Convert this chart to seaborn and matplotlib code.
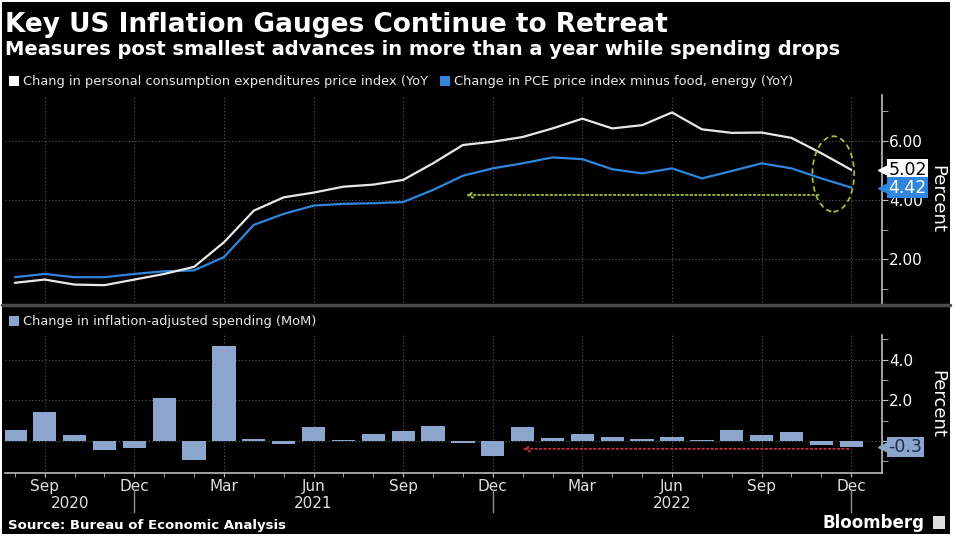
import numpy as np
import pandas as pd
import matplotlib
matplotlib.use('Agg')
import matplotlib.pyplot as plt
import seaborn as sns
from matplotlib.patches import Rectangle, Ellipse, Patch
from matplotlib.lines import Line2D

# monthly data, Aug 2020 - Dec 2022
months = pd.date_range('2020-08-01', '2022-12-01', freq='MS')
pce_yoy = [1.20, 1.31, 1.14, 1.12, 1.31,
           1.50, 1.74, 2.57, 3.64, 4.09, 4.25, 4.45, 4.52, 4.68, 5.24, 5.86, 5.97,
           6.13, 6.42, 6.75, 6.42, 6.53, 6.96, 6.39, 6.27, 6.28, 6.10, 5.58, 5.02]
core_yoy = [1.39, 1.50, 1.39, 1.39, 1.50,
            1.59, 1.62, 2.07, 3.16, 3.53, 3.81, 3.87, 3.89, 3.93, 4.34, 4.82, 5.07,
            5.24, 5.44, 5.38, 5.04, 4.90, 5.07, 4.73, 4.98, 5.24, 5.07, 4.73, 4.42]
spending_mom = [0.54, 1.44, 0.28, -0.46, -0.33,
                2.10, -0.93, 4.67, 0.10, -0.15, 0.67, 0.03, 0.36, 0.48, 0.72, -0.11, -0.72,
                0.70, 0.13, 0.33, 0.18, 0.10, 0.21, 0.03, 0.52, 0.30, 0.43, -0.20, -0.30]

title = 'Key US Inflation Gauges Continue to Retreat'
subtitle = 'Measures post smallest advances in more than a year while spending drops'
pce_label = 'Chang in personal consumption expenditures price index (YoY'
core_label = 'Change in PCE price index minus food, energy (YoY)'
spend_label = 'Change in inflation-adjusted spending (MoM)'

WHITE = '#e8e8e8'
BLUE = '#2f86dc'
BAR = '#8ca5cd'
GRID = '#5a5a5a'
GREEN = '#9cc03c'
RED = '#c0303a'

idx = np.arange(len(months))
df = pd.DataFrame({'i': idx, 'pce': pce_yoy, 'core': core_yoy, 'spend': spending_mom})
quarter_ticks = [i for i, m in enumerate(months) if m.month in (3, 6, 9, 12)]
XLIM = (-0.33, 29.03)

sns.set_style('dark')
plt.rcParams['font.family'] = ['DejaVu Sans']

fig = plt.figure(figsize=(9.6, 5.44), dpi=100, facecolor='white')
fig.patches.append(Rectangle((2 / 960, 1 - 534 / 544), 948 / 960, 532 / 544,
                             transform=fig.transFigure, fc='black', ec='none', zorder=-10))

ax1 = fig.add_axes([5 / 960, 1 - 305 / 544, 877 / 960, 210 / 544])
ax2 = fig.add_axes([5 / 960, 1 - 473 / 544, 877 / 960, 138 / 544])

# top panel: price gauges
sns.lineplot(data=df, x='i', y='pce', ax=ax1, color=WHITE, lw=1.6, zorder=4)
sns.lineplot(data=df, x='i', y='core', ax=ax1, color=BLUE, lw=1.6, zorder=3)

# bottom panel: real spending
sns.barplot(data=df, x='i', y='spend', ax=ax2, color=BAR, width=0.78, saturation=1,
            linewidth=0, edgecolor='none', zorder=3)

for ax in (ax1, ax2):
    ax.set_facecolor('black')
    ax.set_xlim(*XLIM)
    ax.set_xlabel('')
    ax.set_ylabel('')
    for s in ('left', 'top', 'bottom'):
        ax.spines[s].set_visible(False)
    ax.spines['right'].set_visible(True)
    ax.spines['right'].set_color('#bdbdbd')
    ax.spines['right'].set_linewidth(1.2)
    ax.yaxis.tick_right()
    ax.tick_params(axis='y', which='both', direction='out', colors='#bdbdbd',
                   labelcolor='white', labelsize=11, pad=1, length=4)
    ax.grid(False)
    for q in quarter_ticks:
        ax.axvline(q, color=GRID, ls=(0, (1, 2)), lw=0.8, zorder=1)

ax1.set_ylim(0.45, 7.55)
ax1.set_yticks([2, 4, 6])
ax1.set_yticks([1, 3, 5, 7], minor=True)
ax1.set_yticklabels([f'{v:.2f}' for v in [2, 4, 6]])
ax1.set_xticks([])
for v in [2, 4, 6]:
    ax1.axhline(v, color=GRID, ls=(0, (1, 2)), lw=0.8, zorder=1)

ax2.set_ylim(-1.58, 5.22)
ax2.set_yticks([0, 2, 4])
ax2.set_yticks([-1, 1, 3, 5], minor=True)
# the 0.0 label sits under the last-value tag in the original
ax2.set_yticklabels(['', '2.0', '4.0'])
for v in [0, 2, 4]:
    ax2.axhline(v, color=GRID, ls=(0, (1, 2)), lw=0.8, zorder=1)
ax2.spines['bottom'].set_visible(True)
ax2.spines['bottom'].set_color('#bdbdbd')
ax2.spines['bottom'].set_linewidth(1.2)
ax2.set_xticks(quarter_ticks)
ax2.set_xticklabels([months[q].strftime('%b') for q in quarter_ticks])
ax2.set_xticks(idx, minor=True)
ax2.tick_params(axis='x', which='both', direction='out', length=3, colors='#bdbdbd',
                labelcolor='#e0e0e0', labelsize=11, pad=1, bottom=True)

# year labels and separators
xt = ax2.get_xaxis_transform()
dec_idx = [i for i, m in enumerate(months) if m.month == 12]
edges = [XLIM[0]] + dec_idx
for k, year in enumerate(sorted(set(m.year for m in months))):
    ax2.text((edges[k] + edges[k + 1]) / 2, -0.22, str(year), transform=xt,
             ha='center', va='center', fontsize=11, color='#e0e0e0')
for d in dec_idx:
    ax2.plot([d, d], [-0.125, -0.285], transform=xt, color='#909090', lw=1, clip_on=False)


def tag(ax, y, text, fc, tc):
    yt = ax.get_yaxis_transform()
    ax.plot(1.002, y, marker='<', ms=9, color=fc, transform=yt, clip_on=False, zorder=6)
    ax.text(1.0075, y, text, transform=yt, ha='left', va='center', fontsize=12.5,
            color=tc, zorder=7, clip_on=False,
            bbox=dict(boxstyle='square,pad=0.08', fc=fc, ec='none'))


tag(ax1, pce_yoy[-1], f'{pce_yoy[-1]:.2f}', 'white', 'black')
tag(ax1, core_yoy[-1], f'{core_yoy[-1]:.2f}', BLUE, 'white')
tag(ax2, spending_mom[-1], f'{spending_mom[-1]:.1f}', BAR, '#1c2c4c')

# annotations
ax1.annotate('', xy=(15, 4.17), xytext=(27, 4.17),
             arrowprops=dict(arrowstyle='->', color=GREEN, lw=1.3, ls=(0, (1, 1.5))))
ax1.add_patch(Ellipse((27.4, 4.88), 1.4, 2.55, fill=False, ec=GREEN, lw=1.3,
                      ls=(0, (3, 2)), zorder=6))
ax2.annotate('', xy=(16.9, -0.39), xytext=(28, -0.39),
             arrowprops=dict(arrowstyle='->', color=RED, lw=1.3, ls=(0, (1, 1.5))))

# legends
h1 = [Patch(fc='white', ec='none'), Patch(fc=BLUE, ec='none')]
leg1 = ax1.legend(h1, [pce_label, core_label], ncol=2, loc='center left',
                  bbox_to_anchor=(9 / 960, 1 - 82 / 544), bbox_transform=fig.transFigure,
                  frameon=False, fontsize=9.4, handlelength=0.75, handleheight=0.75,
                  handletextpad=0.35, columnspacing=0.9, borderpad=0, borderaxespad=0)
for t in leg1.get_texts():
    t.set_color('#e8e8e8')
leg2 = ax2.legend([Patch(fc=BAR, ec='none')], [spend_label], loc='center left',
                  bbox_to_anchor=(9 / 960, 1 - 322 / 544), bbox_transform=fig.transFigure,
                  frameon=False, fontsize=9.4, handlelength=0.75, handleheight=0.75,
                  handletextpad=0.35, borderpad=0, borderaxespad=0)
for t in leg2.get_texts():
    t.set_color('#e8e8e8')

# panel separator
fig.add_artist(Line2D([2 / 960, 950 / 960], [1 - 305 / 544] * 2, transform=fig.transFigure,
                      color='#4a4a4a', lw=2.5))

# titles and footer
fig.text(5 / 960, 1 - 32 / 544, title, fontsize=19, weight='bold', color='white', va='baseline')
fig.text(5 / 960, 1 - 55 / 544, subtitle, fontsize=14, weight='bold', color='white', va='baseline')
fig.text(937 / 960, 1 - 199 / 544, 'Percent', rotation=270, ha='center', va='center',
         fontsize=13, color='white')
fig.text(937 / 960, 1 - 404 / 544, 'Percent', rotation=270, ha='center', va='center',
         fontsize=13, color='white')
fig.text(8 / 960, 1 - 529 / 544, 'Source: Bureau of Economic Analysis', fontsize=9.5,
         weight='bold', color='white', va='baseline')
fig.text(925 / 960, 1 - 528 / 544, 'Bloomberg', fontsize=12, weight='bold', color='white',
         va='baseline', ha='right')
fig.patches.append(Rectangle((933 / 960, 1 - 529 / 544), 12 / 960, 13 / 544,
                             transform=fig.transFigure, fc='#dddddd', ec='none'))

fig.savefig('out.png', dpi=100, facecolor=fig.get_facecolor())
